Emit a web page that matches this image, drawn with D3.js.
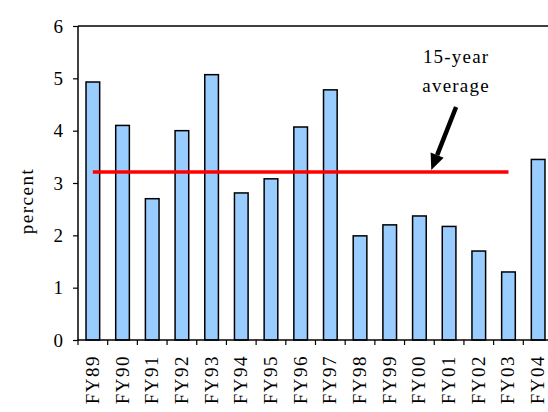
<!DOCTYPE html>
<html><head><meta charset="utf-8">
<script src="https://cdn.jsdelivr.net/npm/d3@7"></script>
<style>
html,body{margin:0;padding:0;background:#fff;}
svg{display:block;}
text{font-family:"Liberation Serif","Times New Roman",serif;fill:#000;}
</style></head>
<body>
<svg id="c" width="548" height="412"></svg>
<script>
const categories = ["FY89","FY90","FY91","FY92","FY93","FY94","FY95","FY96","FY97","FY98","FY99","FY00","FY01","FY02","FY03","FY04"];
const values = [4.93,4.10,2.70,4.00,5.07,2.81,3.08,4.07,4.78,1.99,2.20,2.37,2.17,1.70,1.30,3.45];
const average = 3.21;
const averageFrom = "FY89", averageTo = "FY03";
const yTicks = [0,1,2,3,4,5,6];
const annotation = ["15-year","average"];

(function(){
const svg = d3.select("#c");
const pLeft = 78, pRight = 553, pTop = 26, pBottom = 340;
const x = d3.scaleBand().domain(categories).range([pLeft, pRight]).paddingInner(0).paddingOuter(0);
const y = d3.scaleLinear().domain([0,6]).range([pBottom, pTop]);
const bw = x.bandwidth()*0.46;

// frame (top + right)
svg.append("path").attr("d",`M${pLeft},${pTop}H${pRight}V${pBottom}`).attr("fill","none").attr("stroke","#000").attr("stroke-width",1.5);

// bars
svg.selectAll("rect.bar").data(values).join("rect")
  .attr("x",(d,i)=>x(categories[i])+x.bandwidth()/2-bw/2)
  .attr("y",d=>y(d))
  .attr("width",bw)
  .attr("height",d=>y(0)-y(d))
  .attr("fill","#99ccff").attr("stroke","#000").attr("stroke-width",1.5);

// y axis
const ya = svg.append("g").attr("transform",`translate(${pLeft},0)`)
  .call(d3.axisLeft(y).tickValues(yTicks).tickFormat(d3.format("d")).tickSize(5).tickPadding(10));
ya.select(".domain").attr("stroke-width",1.5).attr("d",`M0,${pTop}V${pBottom}`);
ya.selectAll(".tick line").attr("stroke-width",1.2);
ya.selectAll("text").attr("font-size",19).attr("font-family","Liberation Serif").attr("fill","#000");

// x axis line + ticks at band boundaries
svg.append("line").attr("x1",pLeft).attr("x2",pRight).attr("y1",pBottom).attr("y2",pBottom).attr("stroke","#000").attr("stroke-width",1.5);
svg.selectAll("line.xt").data(categories).join("line")
  .attr("x1",d=>x(d)).attr("x2",d=>x(d)).attr("y1",pBottom).attr("y2",pBottom+5)
  .attr("stroke","#000").attr("stroke-width",1.2);
svg.selectAll("text.xl").data(categories).join("text")
  .attr("transform",d=>`translate(${x(d)+x.bandwidth()/2+6},${pBottom+15}) rotate(-90)`)
  .attr("text-anchor","end").attr("font-size",19).attr("letter-spacing",1.5)
  .text(d=>d);

// y label
svg.append("text").attr("transform",`translate(33,${(pTop+pBottom)/2+18}) rotate(-90)`)
  .attr("text-anchor","middle").attr("font-size",19).attr("letter-spacing",1.5).text("percent");

// average line
svg.append("line")
  .attr("x1",x(averageFrom)+x.bandwidth()/2).attr("x2",x(averageTo)+x.bandwidth()/2)
  .attr("y1",y(average)).attr("y2",y(average))
  .attr("stroke","#ff0000").attr("stroke-width",3.5);

// annotation
const ax = x("FY01")+x.bandwidth()/2+7;
svg.append("text").attr("x",ax).attr("y",63).attr("text-anchor","middle").attr("font-size",19).attr("letter-spacing",1.2).text(annotation[0]);
svg.append("text").attr("x",ax).attr("y",92).attr("text-anchor","middle").attr("font-size",19).attr("letter-spacing",1.2).text(annotation[1]);

const tipX = x("FY00")+x.bandwidth()*0.9, tipY = y(average)-2;
const startX = ax, startY = 107;
const ang = Math.atan2(tipY-startY, tipX-startX);
const headL = 16, headW = 7;
const bx = tipX - headL*Math.cos(ang), by = tipY - headL*Math.sin(ang);
svg.append("line").attr("x1",startX).attr("y1",startY).attr("x2",bx).attr("y2",by).attr("stroke","#000").attr("stroke-width",4.5);
const px = -Math.sin(ang), py = Math.cos(ang);
svg.append("path").attr("d",`M${tipX},${tipY}L${bx+px*headW},${by+py*headW}L${bx-px*headW},${by-py*headW}Z`).attr("fill","#000");
})();
</script>
</body></html>
